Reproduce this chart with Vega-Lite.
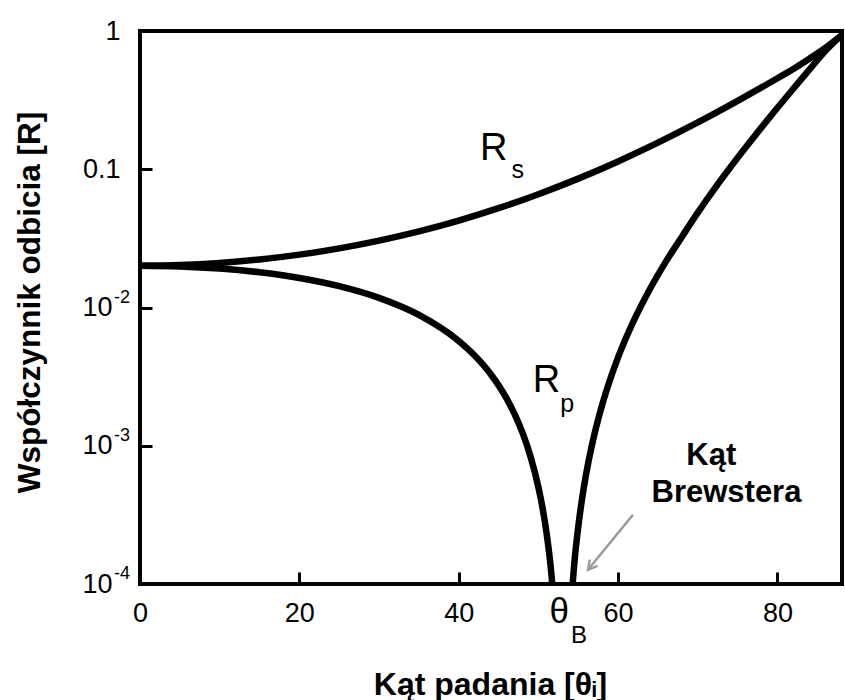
{
  "$schema": "https://vega.github.io/schema/vega-lite/v6.json",
  "width": 702,
  "height": 553,
  "autosize": {"type": "none"},
  "padding": {"left": 140, "top": 31, "right": 3, "bottom": 116},
  "background": "white",
  "config": {
    "view": {"stroke": "black", "strokeWidth": 4},
    "font": "Liberation Sans"
  },
  "encoding": {
    "x": {
      "field": "angle", "type": "quantitative",
      "scale": {"domain": [0, 88.1], "nice": false, "zero": false},
      "axis": {
        "values": [0, 20, 40, 60, 80], "format": "d",
        "grid": false, "domain": false,
        "tickSize": -12, "tickWidth": 3, "tickColor": "black",
        "labelFont": "Liberation Sans", "labelFontSize": 27, "labelColor": "black",
        "labelPadding": 28, "labelFlush": false, "labelOverlap": false,
        "labelBaseline": "top",
        "title": "Kąt padania [θᵢ]",
        "titleFont": "Liberation Sans, DejaVu Sans", "titleFontSize": 32, "titleFontWeight": "bold", "titleColor": "black",
        "titleX": 350, "titleY": 110, "titleBaseline": "alphabetic", "titleAlign": "center"
      }
    },
    "y": {
      "field": "R", "type": "quantitative",
      "scale": {"type": "log", "domain": [0.0001, 1], "nice": false},
      "axis": {
        "values": [1, 0.1, 0.01, 0.001, 0.0001],
        "labelExpr": "datum.value > 0.5 ? '1' : datum.value > 0.05 ? '0.1' : '10'",
        "grid": false, "domain": false,
        "tickSize": -12, "tickWidth": 3, "tickColor": "black",
        "labelFont": "Liberation Sans", "labelFontSize": 27, "labelColor": "black",
        "labelPadding": {"condition": {"test": "datum.value < 0.05", "value": 40}, "value": 32},
        "labelFlush": false, "labelOverlap": false,
        "labelBaseline": "middle",
        "title": "Współczynnik odbicia [R]",
        "titleFont": "Liberation Sans", "titleFontSize": 31.5, "titleFontWeight": "bold", "titleColor": "black",
        "titleX": -110, "titleY": 271, "titleAngle": 270, "titleBaseline": "middle", "titleAlign": "center"
      }
    }
  },
  "layer": [
    {
      "data": {"values": [
        {"series": "Rs", "angle": 0, "R": 0.02006},
        {"series": "Rs", "angle": 5, "R": 0.02029},
        {"series": "Rs", "angle": 10, "R": 0.021},
        {"series": "Rs", "angle": 15, "R": 0.02225},
        {"series": "Rs", "angle": 20, "R": 0.02412},
        {"series": "Rs", "angle": 25, "R": 0.02679},
        {"series": "Rs", "angle": 30, "R": 0.03049},
        {"series": "Rs", "angle": 35, "R": 0.03557},
        {"series": "Rs", "angle": 40, "R": 0.04258},
        {"series": "Rs", "angle": 45, "R": 0.05231},
        {"series": "Rs", "angle": 50, "R": 0.066},
        {"series": "Rs", "angle": 55, "R": 0.08554},
        {"series": "Rs", "angle": 60, "R": 0.1139},
        {"series": "Rs", "angle": 65, "R": 0.15566},
        {"series": "Rs", "angle": 70, "R": 0.218},
        {"series": "Rs", "angle": 75, "R": 0.3122},
        {"series": "Rs", "angle": 78, "R": 0.3907},
        {"series": "Rs", "angle": 80, "R": 0.4552},
        {"series": "Rs", "angle": 82, "R": 0.5314},
        {"series": "Rs", "angle": 84, "R": 0.63},
        {"series": "Rs", "angle": 86, "R": 0.755},
        {"series": "Rs", "angle": 88.1, "R": 0.936},
        {"series": "Rp1", "angle": 0, "R": 0.02006},
        {"series": "Rp1", "angle": 5, "R": 0.01983},
        {"series": "Rp1", "angle": 10, "R": 0.01914},
        {"series": "Rp1", "angle": 15, "R": 0.01798},
        {"series": "Rp1", "angle": 20, "R": 0.01636},
        {"series": "Rp1", "angle": 25, "R": 0.01427},
        {"series": "Rp1", "angle": 30, "R": 0.01174},
        {"series": "Rp1", "angle": 35, "R": 0.008838},
        {"series": "Rp1", "angle": 40, "R": 0.005728},
        {"series": "Rp1", "angle": 42, "R": 0.004491},
        {"series": "Rp1", "angle": 44, "R": 0.003301},
        {"series": "Rp1", "angle": 46, "R": 0.0022},
        {"series": "Rp1", "angle": 47, "R": 0.001699},
        {"series": "Rp1", "angle": 48, "R": 0.001243},
        {"series": "Rp1", "angle": 49, "R": 0.00084},
        {"series": "Rp1", "angle": 50, "R": 0.000501},
        {"series": "Rp1", "angle": 50.5, "R": 0.00036},
        {"series": "Rp1", "angle": 51, "R": 0.000239},
        {"series": "Rp1", "angle": 51.5, "R": 0.0001405},
        {"series": "Rp1", "angle": 52, "R": 0.0000665},
        {"series": "Rp2", "angle": 54, "R": 0.000057},
        {"series": "Rp2", "angle": 54.5, "R": 0.00014},
        {"series": "Rp2", "angle": 55, "R": 0.000259},
        {"series": "Rp2", "angle": 55.5, "R": 0.000421},
        {"series": "Rp2", "angle": 56, "R": 0.000628},
        {"series": "Rp2", "angle": 57, "R": 0.00119},
        {"series": "Rp2", "angle": 58, "R": 0.001975},
        {"series": "Rp2", "angle": 59, "R": 0.003016},
        {"series": "Rp2", "angle": 60, "R": 0.004357},
        {"series": "Rp2", "angle": 62, "R": 0.00809},
        {"series": "Rp2", "angle": 64, "R": 0.01362},
        {"series": "Rp2", "angle": 66, "R": 0.02148},
        {"series": "Rp2", "angle": 68, "R": 0.0324},
        {"series": "Rp2", "angle": 70, "R": 0.0485},
        {"series": "Rp2", "angle": 72, "R": 0.0709},
        {"series": "Rp2", "angle": 74, "R": 0.1016},
        {"series": "Rp2", "angle": 76, "R": 0.1435},
        {"series": "Rp2", "angle": 78, "R": 0.2009},
        {"series": "Rp2", "angle": 80, "R": 0.2786},
        {"series": "Rp2", "angle": 82, "R": 0.383},
        {"series": "Rp2", "angle": 84, "R": 0.525},
        {"series": "Rp2", "angle": 86, "R": 0.716},
        {"series": "Rp2", "angle": 88.1, "R": 0.936}
      ]},
      "mark": {"type": "line", "color": "black", "strokeWidth": 6.5, "clip": true, "interpolate": "monotone", "strokeCap": "round"},
      "encoding": {
        "detail": {"field": "series", "type": "nominal"},
        "order": {"field": "angle", "type": "quantitative"}
      }
    },
    {
      "data": {"values": [
        {"angle": 0, "R": 0.01, "t": "-2"},
        {"angle": 0, "R": 0.001, "t": "-3"},
        {"angle": 0, "R": 0.0001, "t": "-4"}
      ]},
      "mark": {"type": "text", "font": "Liberation Sans", "fontSize": 18, "align": "right", "baseline": "middle", "dx": -10, "dy": -10, "color": "black", "clip": false},
      "encoding": {"text": {"field": "t"}}
    },
    {
      "data": {"values": [
        {"angle": 44.4, "R": 0.1168, "t": "R"},
        {"angle": 51.0, "R": 0.002453, "t": "R"}
      ]},
      "mark": {"type": "text", "font": "Liberation Sans", "fontSize": 38, "align": "center", "baseline": "alphabetic", "color": "black"},
      "encoding": {"text": {"field": "t"}}
    },
    {
      "data": {"values": [
        {"angle": 47.4, "R": 0.0865, "t": "s"},
        {"angle": 53.6, "R": 0.001758, "t": "p"}
      ]},
      "mark": {"type": "text", "font": "Liberation Sans", "fontSize": 25, "align": "center", "baseline": "alphabetic", "color": "black"},
      "encoding": {"text": {"field": "t"}}
    },
    {
      "data": {"values": [
        {"angle": 71.7, "R": 0.000728, "t": "Kąt"},
        {"angle": 73.6, "R": 0.000393, "t": "Brewstera"}
      ]},
      "mark": {"type": "text", "font": "Liberation Sans", "fontSize": 31, "fontWeight": "bold", "align": "center", "baseline": "alphabetic", "color": "black"},
      "encoding": {"text": {"field": "t"}}
    },
    {
      "data": {"values": [{"angle": 52.6, "R": 0.0001, "t": "θ"}]},
      "mark": {"type": "text", "font": "Liberation Sans", "fontSize": 35, "align": "center", "baseline": "middle", "dy": 28, "color": "black", "clip": false},
      "encoding": {"text": {"field": "t"}}
    },
    {
      "data": {"values": [{"angle": 55.1, "R": 0.0001, "t": "B"}]},
      "mark": {"type": "text", "font": "Liberation Sans", "fontSize": 24, "align": "center", "baseline": "middle", "dy": 52, "color": "black", "clip": false},
      "encoding": {"text": {"field": "t"}}
    },
    {
      "data": {"values": [{"angle": 61.87, "R": 0.0003165, "angle2": 56.22, "R2": 0.0001267}]},
      "mark": {"type": "rule", "color": "#9a9a9a", "strokeWidth": 2.5},
      "encoding": {
        "x2": {"field": "angle2"},
        "y2": {"field": "R2"}
      }
    },
    {
      "data": {"values": [{"angle": 56.22, "R": 0.0001267}]},
      "mark": {"type": "point", "shape": "M-0.5,0.9L0,0L0.5,0.9", "size": 400, "angle": 219, "filled": false, "stroke": "#9a9a9a", "strokeWidth": 2.5, "opacity": 1},
      "encoding": {}
    }
  ]
}
